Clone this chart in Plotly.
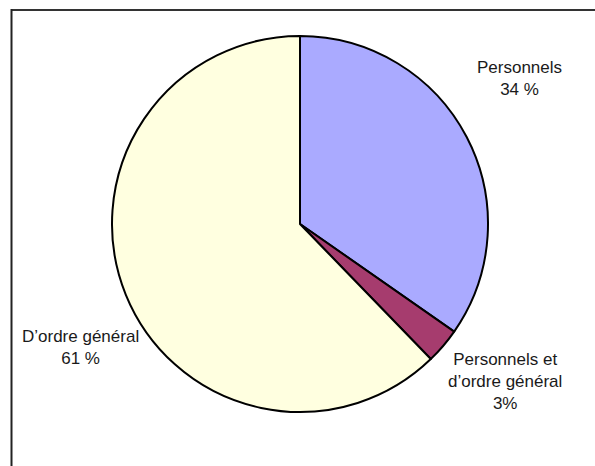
import plotly.graph_objects as go

# Répartition des motifs
labels = ["Personnels", "Personnels et<br>d’ordre général", "D’ordre général"]
values = [34, 3, 61]
value_text = ["34 %", "3%", "61 %"]
colors = ["#AAAAFF", "#A63C6E", "#FFFFE0"]

W, H = 595, 466
cx, cy, r = 300, 224, 188

fig = go.Figure(go.Pie(
    labels=labels,
    values=values,
    sort=False,
    direction="clockwise",
    rotation=0,
    textinfo="none",
    hoverinfo="label+percent",
    marker=dict(colors=colors, line=dict(color="#000000", width=2)),
    domain=dict(x=[(cx - r) / W, (cx + r) / W],
                y=[(H - cy - r) / H, (H - cy + r) / H]),
    showlegend=False,
))

# label placement (pixel centres, top-left origin)
label_pos = [(519, 79), (505, 381), (80, 347)]
font = dict(family="Liberation Sans Narrow, Arial Narrow, Liberation Sans, sans-serif",
            size=17, color="#1a1a1a")
for lab, txt, (px, py) in zip(labels, value_text, label_pos):
    fig.add_annotation(
        x=px / W, y=1 - py / H, xref="paper", yref="paper",
        text=f"{lab}<br>{txt}", showarrow=False, font=font,
        align="center", xanchor="center", yanchor="middle",
    )

# frame lines along the top and left
fig.add_shape(type="line", xref="paper", yref="paper",
              x0=11.5 / W, x1=1, y0=1 - 10 / H, y1=1 - 10 / H,
              line=dict(color="#333333", width=2))
fig.add_shape(type="line", xref="paper", yref="paper",
              x0=11.5 / W, x1=11.5 / W, y0=0, y1=1 - 9 / H,
              line=dict(color="#222222", width=2))

fig.update_layout(
    width=W, height=H,
    margin=dict(l=0, r=0, t=0, b=0),
    paper_bgcolor="#FFFFFF",
    plot_bgcolor="#FFFFFF",
)

fig.write_html("out.html")
